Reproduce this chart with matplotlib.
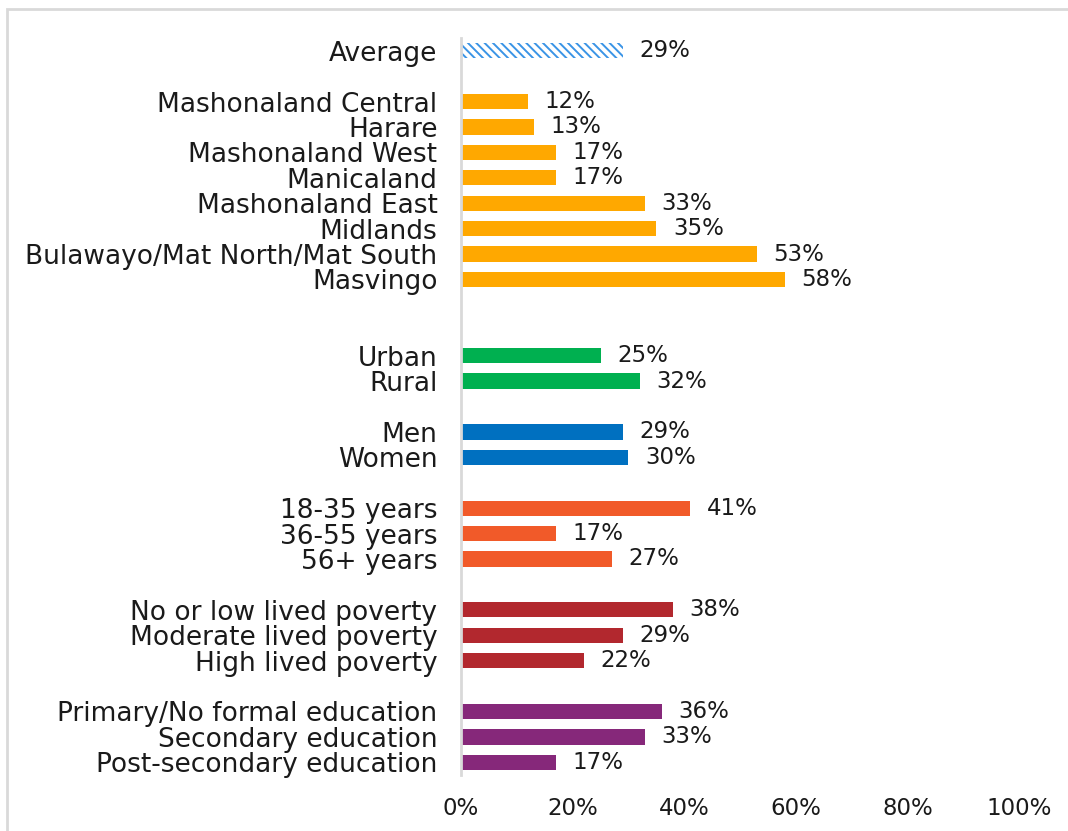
import matplotlib
matplotlib.use("Agg")
import matplotlib.pyplot as plt
from matplotlib.patches import Rectangle

plt.rcParams['font.family'] = ['DejaVu Sans']
plt.rcParams['hatch.linewidth'] = 1.4

# Rows from top to bottom; None marks an empty spacer row
labels = ["Average", None,
          "Mashonaland Central", "Harare", "Mashonaland West", "Manicaland",
          "Mashonaland East", "Midlands", "Bulawayo/Mat North/Mat South", "Masvingo",
          None, None,
          "Urban", "Rural", None,
          "Men", "Women", None,
          "18-35 years", "36-55 years", "56+ years", None,
          "No or low lived poverty", "Moderate lived poverty", "High lived poverty", None,
          "Primary/No formal education", "Secondary education", "Post-secondary education"]
values = [29, None,
          12, 13, 17, 17, 33, 35, 53, 58,
          None, None,
          25, 32, None,
          29, 30, None,
          41, 17, 27, None,
          38, 29, 22, None,
          36, 33, 17]
groups = ["avg", None,
          "region", "region", "region", "region", "region", "region", "region", "region",
          None, None,
          "location", "location", None,
          "gender", "gender", None,
          "age", "age", "age", None,
          "poverty", "poverty", "poverty", None,
          "education", "education", "education"]

group_colors = {
    "avg": "white",
    "region": "#FFA800",
    "location": "#00B050",
    "gender": "#0070C0",
    "age": "#F15A29",
    "poverty": "#B2282E",
    "education": "#86287A",
}

fig = plt.figure(figsize=(10.68, 8.31), dpi=100)
ax = fig.add_axes([461 / 1068, 1 - 775 / 831, (1019 - 461) / 1068, (775 - 38) / 831])

# light frame around the chart
fig.patches.append(Rectangle((7 / 1068, -0.05), 1.1, 1 - 9 / 831 + 0.05,
                             transform=fig.transFigure, fill=False,
                             edgecolor="#D9D9D9", linewidth=2))

rows = [i for i, v in enumerate(values) if v is not None]
for i in rows:
    g = groups[i]
    if g == "avg":
        ax.barh(i, values[i], height=0.6, color="white", edgecolor="#3A94E6",
                linewidth=0, hatch="\\\\\\\\")
    else:
        ax.barh(i, values[i], height=0.6, color=group_colors[g])
    ax.annotate(f"{values[i]}%", (values[i], i), xytext=(12, 0),
                textcoords="offset points", va="center", ha="left",
                fontsize=16.5, color="#1a1a1a")

ax.set_yticks(rows)
ax.set_yticklabels([labels[i] for i in rows], fontsize=19, color="#1a1a1a")
ax.set_ylim(len(labels) - 0.5, -0.5)
ax.set_xlim(0, 100)
ax.set_xticks(range(0, 101, 20))
ax.set_xticklabels([f"{t}%" for t in range(0, 101, 20)], fontsize=16.5, color="#1a1a1a")
ax.tick_params(axis="y", length=0, pad=17)
ax.tick_params(axis="x", length=0, pad=16)

for s in ["top", "right", "bottom"]:
    ax.spines[s].set_visible(False)
ax.spines["left"].set_color("#D9D9D9")
ax.spines["left"].set_linewidth(2)

fig.savefig("out.png", dpi=100)
